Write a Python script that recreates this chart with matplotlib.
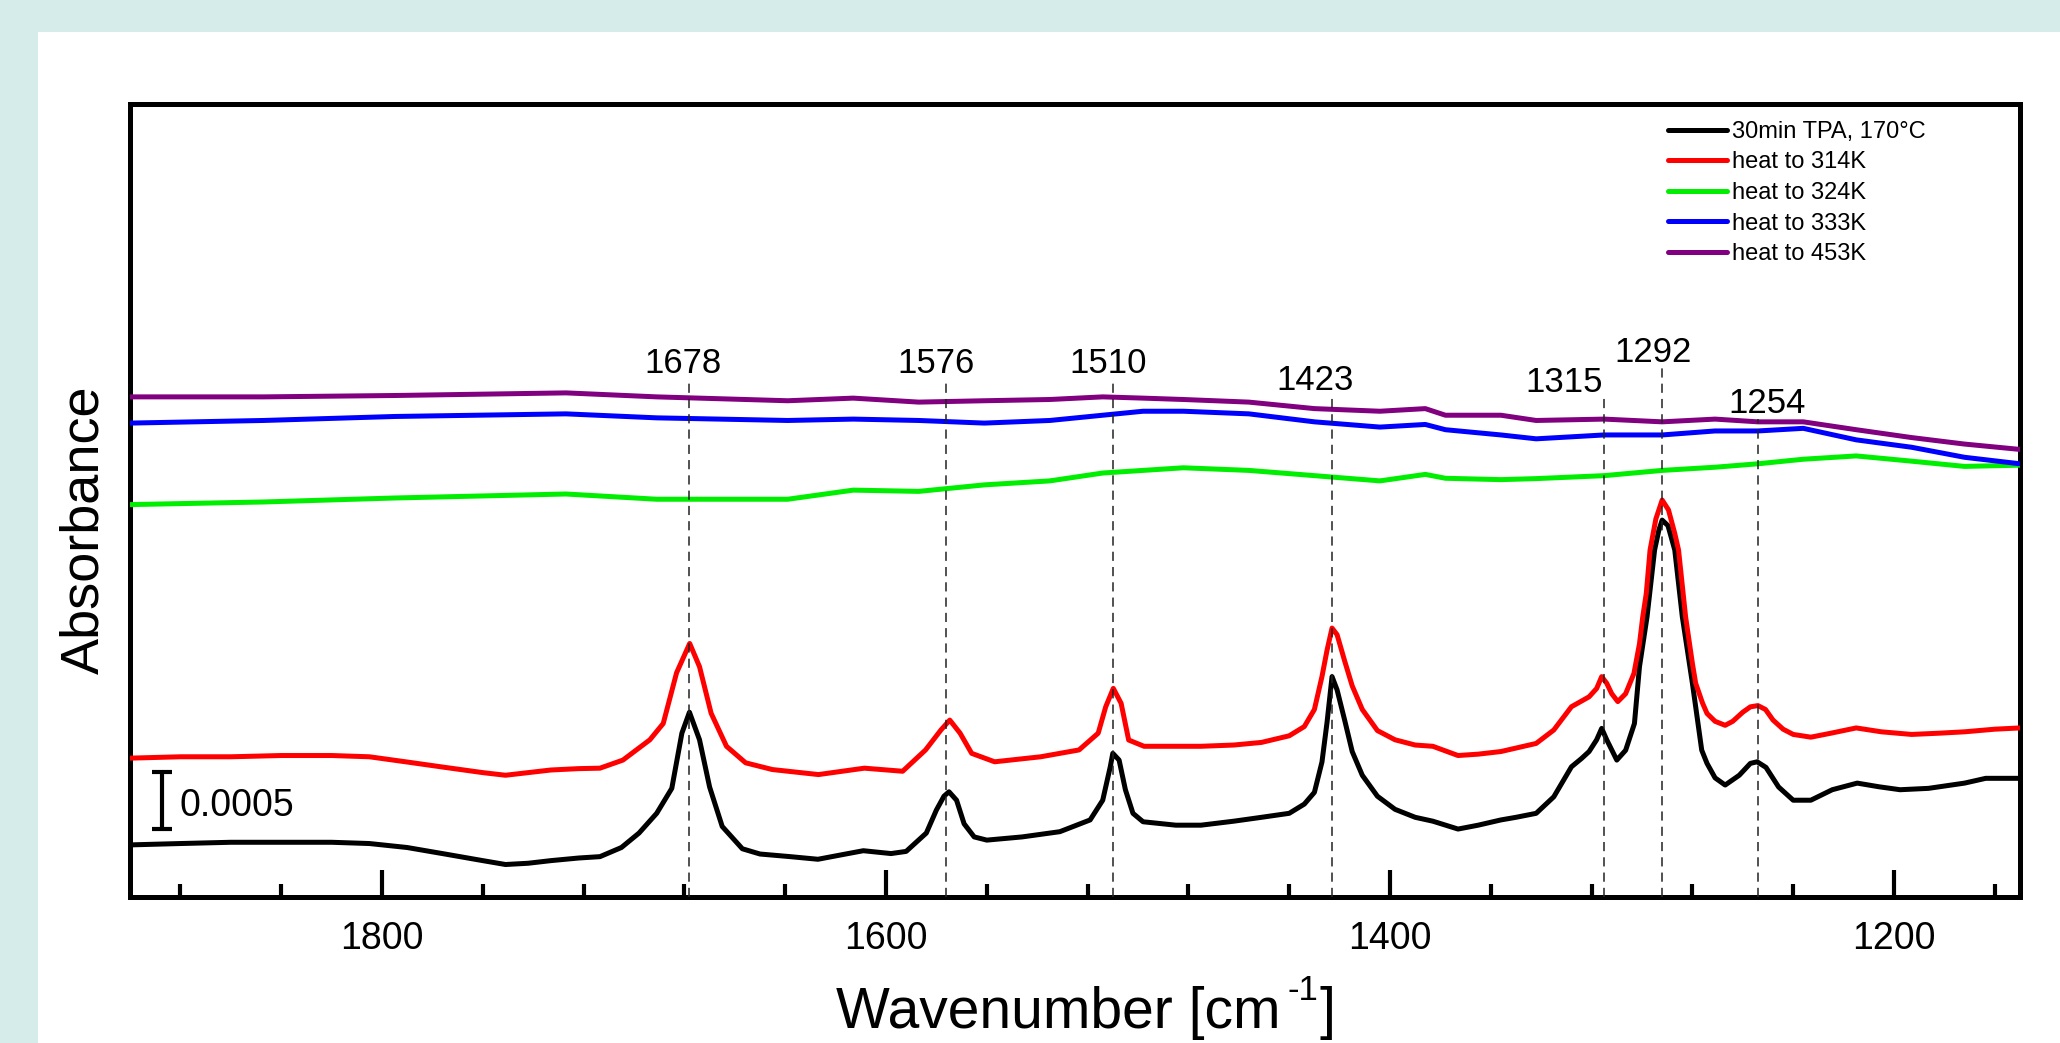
import numpy as np
import matplotlib
matplotlib.use("Agg")
import matplotlib.pyplot as plt
from matplotlib.patches import Rectangle
from matplotlib.ticker import MultipleLocator

plt.rcParams['font.family'] = ['Liberation Sans', 'DejaVu Sans']

# ---------------- data (absorbance, in units of 1e-3) ----------------
wn_black = [1900, 1880, 1860, 1840, 1820, 1805, 1790, 1775, 1760, 1751,
            1742, 1733, 1722, 1713.5, 1705, 1698, 1691, 1685, 1681, 1678,
            1674, 1670, 1665, 1657, 1650, 1638, 1627, 1616, 1609, 1598,
            1592, 1584, 1580, 1577, 1575, 1572, 1569, 1565, 1560, 1546,
            1531, 1519, 1514, 1511, 1510, 1507.5, 1505, 1502, 1498, 1485,
            1475, 1462, 1451, 1440, 1434, 1430, 1427, 1425, 1423, 1421,
            1418, 1415, 1411, 1405, 1398, 1390, 1383, 1373, 1365, 1356,
            1350, 1342, 1335, 1328, 1324, 1321, 1318, 1316, 1314, 1310,
            1306.5, 1303, 1301, 1298, 1295, 1293.3, 1292, 1289.7, 1287, 1284,
            1280, 1276.3, 1274.2, 1271, 1267, 1261.4, 1257, 1254.3, 1250.8, 1245.8,
            1240, 1233, 1224.5, 1214.6, 1206, 1197.6, 1186.3, 1172, 1163.6, 1150]
tpa_170C = [0.457, 0.469, 0.480, 0.480, 0.480, 0.469, 0.434, 0.377, 0.319, 0.285,
            0.296, 0.319, 0.342, 0.354, 0.434, 0.561, 0.734, 0.953, 1.437, 1.621,
            1.379, 0.965, 0.619, 0.423, 0.377, 0.354, 0.331, 0.377, 0.406, 0.381,
            0.400, 0.561, 0.763, 0.884, 0.923, 0.849, 0.642, 0.527, 0.499, 0.527,
            0.573, 0.676, 0.849, 1.143, 1.260, 1.201, 0.941, 0.734, 0.660, 0.630,
            0.630, 0.665, 0.699, 0.734, 0.815, 0.918, 1.184, 1.529, 1.933, 1.817,
            1.552, 1.276, 1.068, 0.884, 0.769, 0.699, 0.665, 0.596, 0.630, 0.676,
            0.699, 0.734, 0.879, 1.142, 1.215, 1.276, 1.379, 1.479, 1.379, 1.201,
            1.287, 1.522, 2.020, 2.458, 3.044, 3.219, 3.306, 3.258, 3.044, 2.458,
            1.875, 1.288, 1.172, 1.045, 0.982, 1.068, 1.172, 1.186, 1.137, 0.965,
            0.849, 0.849, 0.941, 0.999, 0.967, 0.941, 0.953, 0.999, 1.041, 1.041]

wn_red = [1900, 1880, 1860, 1840, 1820, 1805, 1790, 1775, 1760, 1751,
          1742, 1733, 1722, 1713.5, 1704.4, 1693.7, 1688.4, 1683.1, 1677.9, 1674,
          1669.4, 1663.3, 1655.7, 1645.1, 1626.8, 1608.6, 1593.4, 1584.3, 1578.2, 1574.7,
          1570.6, 1566, 1556.9, 1538.6, 1523.4, 1515.8, 1512.8, 1509.8, 1506.7, 1503.7,
          1497.6, 1475.1, 1462, 1451, 1440, 1434, 1430, 1427, 1425, 1423,
          1421, 1418, 1415, 1411, 1405, 1398, 1390, 1383, 1373, 1365,
          1356, 1342, 1335, 1328, 1321, 1318, 1316, 1314, 1312, 1309.6,
          1306.5, 1303.2, 1301, 1299.7, 1298.3, 1296.8, 1294.5, 1292, 1289.5, 1287,
          1285.5, 1282.7, 1280, 1278.7, 1276, 1274.2, 1271, 1267, 1264, 1260,
          1257, 1254, 1251, 1248, 1244, 1240, 1233, 1225, 1215, 1205,
          1193, 1182, 1172, 1160, 1150]
heat_314K = [1.218, 1.230, 1.230, 1.241, 1.241, 1.230, 1.184, 1.137, 1.091, 1.068,
             1.091, 1.114, 1.126, 1.130, 1.201, 1.379, 1.522, 1.967, 2.224, 2.020,
             1.612, 1.322, 1.177, 1.118, 1.074, 1.130, 1.103, 1.290, 1.465, 1.552,
             1.437, 1.260, 1.186, 1.230, 1.290, 1.437, 1.669, 1.830, 1.699, 1.377,
             1.322, 1.322, 1.333, 1.356, 1.414, 1.495, 1.645, 1.933, 2.163, 2.359,
             2.301, 2.071, 1.852, 1.645, 1.460, 1.379, 1.333, 1.322, 1.241, 1.253,
             1.276, 1.347, 1.465, 1.669, 1.756, 1.829, 1.933, 1.875, 1.783, 1.714,
             1.783, 1.961, 2.221, 2.458, 2.663, 3.044, 3.316, 3.482, 3.396, 3.189,
             3.044, 2.458, 2.048, 1.875, 1.702, 1.610, 1.541, 1.506, 1.541, 1.621,
             1.668, 1.679, 1.645, 1.552, 1.472, 1.426, 1.402, 1.437, 1.483, 1.449,
             1.426, 1.437, 1.449, 1.472, 1.483]

wn_flat = [1900, 1847, 1795, 1727, 1691, 1639, 1613, 1587, 1561, 1535,
           1514, 1498, 1482, 1456, 1430, 1404, 1386, 1378, 1356, 1342,
           1315, 1292, 1271, 1254, 1236, 1215, 1193, 1172, 1150]
heat_324K = [3.442, 3.465, 3.500, 3.535, 3.489, 3.489, 3.569, 3.558, 3.615, 3.650,
             3.719, 3.742, 3.765, 3.742, 3.696, 3.650, 3.707, 3.673, 3.661, 3.670,
             3.696, 3.742, 3.770, 3.800, 3.840, 3.869, 3.823, 3.777, 3.788]
heat_333K = [4.157, 4.180, 4.215, 4.238, 4.203, 4.180, 4.192, 4.180, 4.157, 4.180,
             4.226, 4.261, 4.261, 4.238, 4.168, 4.122, 4.145, 4.099, 4.053, 4.019,
             4.053, 4.053, 4.088, 4.088, 4.111, 4.010, 3.945, 3.857, 3.800]
heat_453K = [4.387, 4.387, 4.399, 4.422, 4.387, 4.353, 4.376, 4.341, 4.353, 4.364,
             4.387, 4.376, 4.364, 4.341, 4.284, 4.261, 4.284, 4.226, 4.226, 4.180,
             4.192, 4.168, 4.192, 4.168, 4.168, 4.099, 4.030, 3.973, 3.926]

series_labels = ['30min TPA, 170°C', 'heat to 314K', 'heat to 324K',
                 'heat to 333K', 'heat to 453K']

peaks = [1678, 1576, 1510, 1423, 1315, 1292, 1254]
peak_labels = ['1678', '1576', '1510', '1423', '1315', '1292', '1254']

scale_bar = 0.0005

# ---------------- layout / style ----------------
W, H = 2060, 1043
colors = ['#000000', '#ff0000', '#00ee00', '#0000ff', '#800080']
label_base = [4.597, 4.597, 4.597, 4.447, 4.430, 4.693, 4.246]   # label baseline (1e-3 units)
label_dx = [2.6, 4.2, 1.9, 6.8, 16.0, 3.6, -3.6]                  # label centre offset (cm-1)

fig = plt.figure(figsize=(W / 100, H / 100), dpi=100, facecolor='#d5ecea')
fig.patches.append(Rectangle((38 / W, 0), 1 - 38 / W, (H - 32) / H,
                             transform=fig.transFigure, facecolor='white',
                             edgecolor='none', zorder=-10))

ax = fig.add_axes([130 / W, (H - 897) / H, (2020 - 130) / W, (897 - 104) / H])
ax.set_facecolor('white')

xs = [wn_black, wn_red, wn_flat, wn_flat, wn_flat]
ys = [tpa_170C, heat_314K, heat_324K, heat_333K, heat_453K]
for x, y, c, lab in zip(xs, ys, colors, series_labels):
    ax.plot(x, np.asarray(y) * 1e-3, color=c, lw=3.6, label=lab,
            solid_joinstyle='round', solid_capstyle='round', zorder=3)

# peak markers
for p, t, yb, dx in zip(peaks, peak_labels, label_base, label_dx):
    ax.plot([p, p], [0, (yb - 0.05) * 1e-3], color='#222222', lw=1.1,
            ls=(0, (6, 4)), zorder=4)
    ax.text(p + dx, yb * 1e-3, t, fontsize=25, ha='center', va='baseline', zorder=5)

# scale bar
sb_x, sb_y0 = 1887.3, 0.000597
ax.errorbar([sb_x], [sb_y0 + scale_bar / 2], yerr=[scale_bar / 2], fmt='none',
            ecolor='black', elinewidth=3, capsize=7.5, capthick=3, zorder=5)
ax.text(1880.2, 0.000798, '0.0005', fontsize=27, ha='left', va='center')

ax.set_xlim(1900, 1150)
ax.set_ylim(0, 6.956e-3)
ax.xaxis.set_major_locator(MultipleLocator(200))
ax.xaxis.set_minor_locator(MultipleLocator(40))
ax.tick_params(axis='x', which='major', direction='in', length=19.5, width=3,
               labelsize=27, pad=17, top=False)
ax.tick_params(axis='x', which='minor', direction='in', length=9.5, width=3, top=False)
ax.set_yticks([])
for s in ax.spines.values():
    s.set_linewidth(3.6)

# x label: "Wavenumber [cm" + superscript "-1" + "]"
t1 = fig.text(836 / W, (H - 1028) / H, 'Wavenumber [cm', ha='left',
              va='baseline', fontsize=41)
sup = ax.annotate('-1', xy=(1, 0), xycoords=t1, xytext=(5, 28.7),
                  textcoords='offset points', ha='left', va='baseline', fontsize=25)
ax.annotate(']', xy=(1, 0), xycoords=sup, xytext=(1, -14.7),
            textcoords='offset points', ha='left', va='baseline', fontsize=41)

fig.text(84 / W, (H - 530) / H, 'Absorbance', rotation=90, ha='center',
         va='center', fontsize=39)

ax.legend(loc='upper left', bbox_to_anchor=(1668 / W, (H - 121) / H),
          bbox_transform=fig.transFigure, frameon=False, fontsize=17,
          handlelength=2.5, handletextpad=0.2, labelspacing=0.36,
          borderpad=0, borderaxespad=0)

fig.savefig('out.png', dpi=100, facecolor=fig.get_facecolor())
